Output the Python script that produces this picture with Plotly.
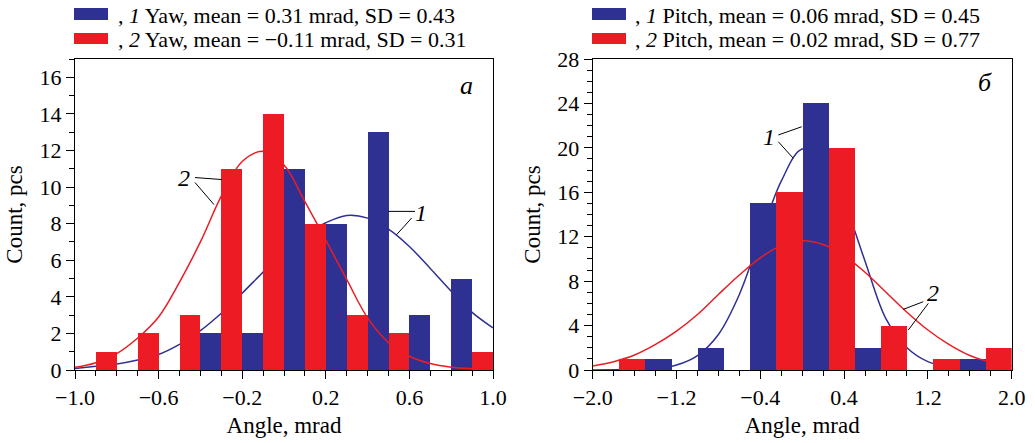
import plotly.graph_objects as go

# ---------------- data: left panel (yaw) ----------------
yaw_bins = [-0.9, -0.7, -0.5, -0.3, -0.1, 0.1, 0.3, 0.5, 0.7, 0.9]
yaw1_counts = [0, 0, 0, 2, 2, 11, 8, 13, 3, 5]
yaw2_counts = [1, 2, 3, 11, 14, 8, 3, 2, 0, 1]

yaw_curve_x = [-1.0, -0.9, -0.8, -0.7, -0.6, -0.5, -0.4, -0.3, -0.2, -0.1, 0.0,
               0.1, 0.2, 0.3, 0.4, 0.5, 0.6, 0.7, 0.8, 0.9, 1.0]
yaw1_curve = [0.08, 0.2, 0.33, 0.55, 0.85, 1.4, 2.15, 3.1, 4.2, 5.35, 6.45,
              7.4, 8.05, 8.45, 8.3, 7.7, 6.75, 5.55, 4.3, 3.15, 2.3]
yaw2_curve = [0.15, 0.4, 0.9, 1.75, 2.9, 4.8, 7.0, 9.5, 11.4, 11.95, 11.2,
              9.2, 7.1, 4.95, 2.85, 1.5, 0.75, 0.35, 0.15, 0.07, 0.04]

# ---------------- data: right panel (pitch) ----------------
pitch_bins = [-1.75, -1.25, -0.75, -0.25, 0.25, 0.75, 1.25, 1.75]
pitch1_counts = [0, 1, 2, 15, 24, 2, 0, 1]
pitch2_counts = [1, 0, 0, 16, 20, 4, 1, 2]

pitch_curve_x = [-2.0, -1.8, -1.6, -1.4, -1.2, -1.0, -0.8, -0.6, -0.4, -0.2, 0.0,
                 0.2, 0.4, 0.6, 0.8, 1.0, 1.2, 1.4, 1.6, 1.8, 2.0]
pitch1_curve = [0.0, 0.02, 0.06, 0.15, 0.45, 1.3, 3.2, 6.8, 12.0, 17.0, 19.9,
                19.2, 15.2, 9.8, 4.6, 2.0, 0.75, 0.3, 0.08, 0.02, 0.0]
pitch2_curve = [0.37, 0.75, 1.35, 2.3, 3.5, 5.0, 6.8, 8.55, 10.1, 11.2, 11.64,
                11.3, 10.3, 8.8, 7.0, 5.2, 3.6, 2.3, 1.3, 0.7, 0.35]

legend_yaw = [", <i>1</i> Yaw, mean = 0.31 mrad, SD = 0.43",
              ", <i>2</i> Yaw, mean = \u22120.11 mrad, SD = 0.31"]
legend_pitch = [", <i>1</i> Pitch, mean = 0.06 mrad, SD = 0.45",
                ", <i>2</i> Pitch, mean = 0.02 mrad, SD = 0.77"]

BLUE = "#2E3192"
RED = "#ED1C24"
FONT = "Liberation Serif"

fig = go.Figure()

# blue fitted curves on base subplots (drawn under the bars)
fig.add_trace(go.Scatter(x=yaw_curve_x, y=yaw1_curve, mode="lines", line=dict(color=BLUE, width=1.5, shape="spline"),
                         xaxis="x", yaxis="y", name="1 Yaw fit", hoverinfo="skip"))
fig.add_trace(go.Scatter(x=pitch_curve_x, y=pitch1_curve, mode="lines", line=dict(color=BLUE, width=1.5, shape="spline"),
                         xaxis="x2", yaxis="y2", name="1 Pitch fit", hoverinfo="skip"))

# bars on overlay subplots
fig.add_trace(go.Bar(x=yaw_bins, y=yaw1_counts, marker=dict(color=BLUE, line=dict(width=0)),
                     xaxis="x3", yaxis="y3", name="1 Yaw"))
fig.add_trace(go.Bar(x=yaw_bins, y=yaw2_counts, marker=dict(color=RED, line=dict(width=0)),
                     xaxis="x3", yaxis="y3", name="2 Yaw"))
fig.add_trace(go.Bar(x=pitch_bins, y=pitch1_counts, marker=dict(color=BLUE, line=dict(width=0)),
                     xaxis="x4", yaxis="y4", name="1 Pitch"))
fig.add_trace(go.Bar(x=pitch_bins, y=pitch2_counts, marker=dict(color=RED, line=dict(width=0)),
                     xaxis="x4", yaxis="y4", name="2 Pitch"))

# red fitted curves on top
fig.add_trace(go.Scatter(x=yaw_curve_x, y=yaw2_curve, mode="lines", line=dict(color=RED, width=1.5, shape="spline"),
                         xaxis="x3", yaxis="y3", name="2 Yaw fit", hoverinfo="skip"))
fig.add_trace(go.Scatter(x=pitch_curve_x, y=pitch2_curve, mode="lines", line=dict(color=RED, width=1.5, shape="spline"),
                         xaxis="x4", yaxis="y4", name="2 Pitch fit", hoverinfo="skip"))

W, H = 1035, 443
L1, R1 = 75, 493
L2, R2 = 592.7, 1011.7
TOP, BOT = 59, 370
xd1 = [L1 / W, R1 / W]
xd2 = [L2 / W, R2 / W]
yd = [1 - BOT / H, 1 - TOP / H]

tickfont = dict(family=FONT, size=22, color="black")
titlefont = dict(family=FONT, size=23, color="black")


def axis(domain, rng, tick0, dtick, mdtick, title, anchor, fmt, standoff):
    return dict(domain=domain, range=rng, tick0=tick0, dtick=dtick, tickformat=fmt,
                showline=True, linecolor="black", linewidth=1, mirror=True,
                ticks="outside", ticklen=8, tickwidth=1, tickcolor="black",
                minor=dict(ticks="outside", ticklen=5, dtick=mdtick, tick0=tick0, tickcolor="black", showgrid=False),
                showgrid=False, zeroline=False, tickfont=tickfont, automargin=False,
                title=dict(text=title, font=titlefont, standoff=standoff), anchor=anchor)


def overlay(base, rng, anchor):
    return dict(overlaying=base, range=rng, visible=False, showgrid=False, zeroline=False, anchor=anchor)


fig.update_layout(
    width=W, height=H, showlegend=False,
    margin=dict(l=0, r=0, t=0, b=0, autoexpand=False),
    paper_bgcolor="white", plot_bgcolor="rgba(0,0,0,0)",
    barmode="group", bargap=0, bargroupgap=0,
    xaxis=axis(xd1, [-1.0, 1.0], -1.0, 0.4, 0.1, "Angle, mrad", "y", ".1f", 7),
    yaxis=axis(yd, [0, 17], 0, 2, 1, "Count, pcs", "x", "d", 10),
    xaxis2=axis(xd2, [-2.0, 2.0], -2.0, 0.8, 0.2, "Angle, mrad", "y2", ".1f", 7),
    yaxis2=axis(yd, [0, 28], 0, 4, 1, "Count, pcs", "x2", "d", 10),
    xaxis3=overlay("x", [-1.0, 1.0], "y3"),
    yaxis3=overlay("y", [0, 17], "x3"),
    xaxis4=overlay("x2", [-2.0, 2.0], "y4"),
    yaxis4=overlay("y2", [0, 28], "x4"),
)

# legend blocks above each panel: colour swatch + text
legend_rows = [(74, legend_yaw, 116), (592, legend_pitch, 633)]
row_swatch = [(8, 20), (33, 44)]
row_text_y = [15.5, 39]
for sx, texts, tx in legend_rows:
    for i, (txt, col) in enumerate(zip(texts, [BLUE, RED])):
        y0, y1 = row_swatch[i]
        fig.add_shape(type="rect", xref="paper", yref="paper",
                      x0=sx / W, x1=(sx + 34) / W, y0=1 - y1 / H, y1=1 - y0 / H,
                      fillcolor=col, line=dict(width=0), layer="above")
        fig.add_annotation(x=tx / W, y=1 - row_text_y[i] / H, xref="paper", yref="paper",
                           xanchor="left", yanchor="middle", text=txt, showarrow=False,
                           font=dict(family=FONT, size=22, color="black"))

# panel letters
fig.add_annotation(x=0.871, y=15.53, xref="x", yref="y", text="<i>а</i>", showarrow=False,
                   font=dict(family=FONT, size=26, color="black"))
fig.add_annotation(x=1.745, y=25.84, xref="x2", yref="y2", text="<i>б</i>", showarrow=False,
                   font=dict(family=FONT, size=26, color="black"))

# curve labels with leader lines
labels = [
    ("x", "y", -0.478, 10.52, "2", [((-0.426, 10.52), (-0.297, 10.41)), ((-0.426, 10.25), (-0.335, 9.04))]),
    ("x", "y", 0.655, 8.6, "1", [((0.627, 8.67), (0.499, 8.67)), ((0.611, 8.31), (0.539, 7.40))]),
    ("x2", "y2", -0.317, 20.98, "1", [((-0.228, 21.16), (-0.005, 21.9)), ((-0.228, 20.55), (-0.085, 19.06))]),
    ("x2", "y2", 1.249, 6.93, "2", [((1.156, 6.15), (0.965, 5.46)), ((1.204, 6.0), (1.013, 3.6))]),
]
for xr, yr, lx, ly, txt, lines in labels:
    fig.add_annotation(x=lx, y=ly, xref=xr, yref=yr, text=f"<i>{txt}</i>", showarrow=False,
                       font=dict(family=FONT, size=24, color="black"))
    for (x0, y0), (x1, y1) in lines:
        fig.add_shape(type="line", x0=x0, y0=y0, x1=x1, y1=y1, xref=xr, yref=yr,
                      line=dict(color="black", width=1), layer="above")

# remove the default page margin so the figure fills the 1035x443 window exactly
fig.write_html("out.html", config={"displayModeBar": False},
               post_script="document.body.style.margin='0';")
